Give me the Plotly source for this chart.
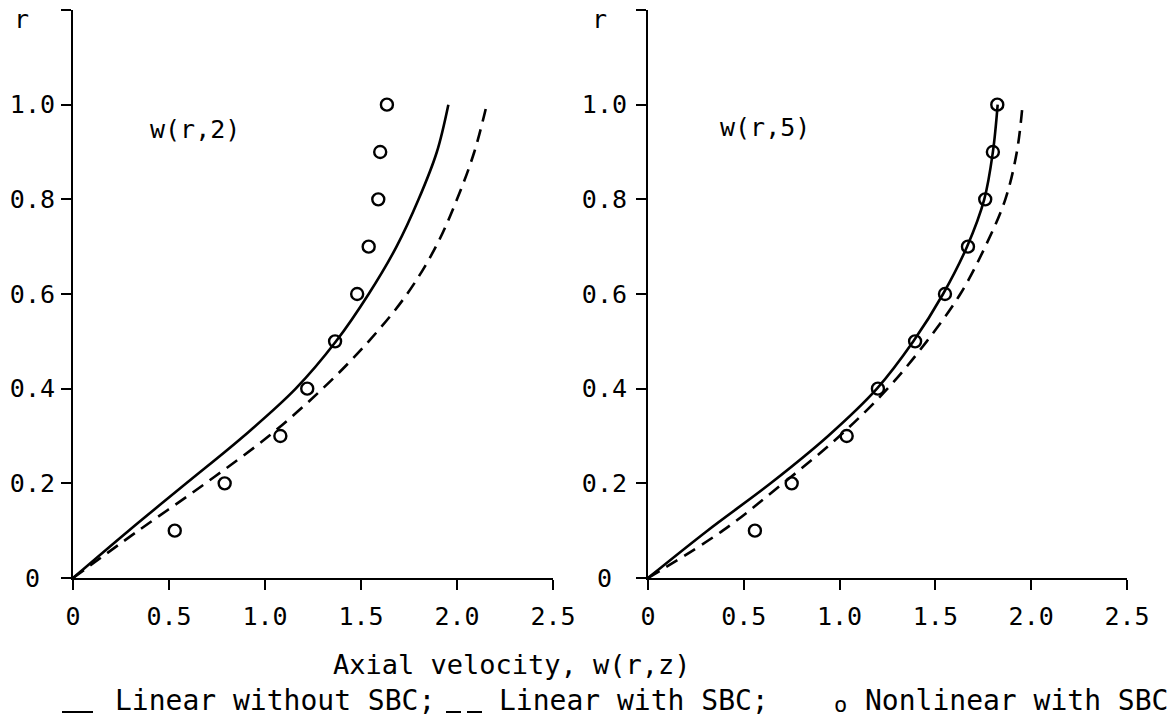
import plotly.graph_objects as go

# ---------------- data ----------------
r_vals = [0.0, 0.1, 0.2, 0.3, 0.4, 0.5, 0.6, 0.7, 0.8, 0.9, 1.0]
r_pts = [0.1, 0.2, 0.3, 0.4, 0.5, 0.6, 0.7, 0.8, 0.9, 1.0]

# z = 2 panel
w2_linear_no_sbc = [0.0, 0.29, 0.59, 0.89, 1.16, 1.37, 1.54, 1.685, 1.80, 1.895, 1.955]
w2_linear_sbc = [0.0, 0.34, 0.69, 1.02, 1.30, 1.54, 1.74, 1.89, 2.00, 2.09, 2.155]
w2_nonlinear_sbc = [0.53, 0.79, 1.08, 1.22, 1.365, 1.48, 1.54, 1.59, 1.60, 1.635]

# z = 5 panel
w5_linear_no_sbc = [0.0, 0.31, 0.64, 0.94, 1.195, 1.385, 1.54, 1.665, 1.755, 1.80, 1.825]
w5_linear_sbc = [0.0, 0.39, 0.705, 1.00, 1.25, 1.455, 1.63, 1.76, 1.865, 1.925, 1.955]
w5_nonlinear_sbc = [0.558, 0.75, 1.037, 1.20, 1.394, 1.55, 1.67, 1.76, 1.80, 1.823]

x_ticks = [0, 0.5, 1.0, 1.5, 2.0, 2.5]
x_ticktext = ["0", "0.5", "1.0", "1.5", "2.0", "2.5"]
y_ticks = [0, 0.2, 0.4, 0.6, 0.8, 1.0, 1.2]
y_ticktext = ["0\u00a0", "0.2", "0.4", "0.6", "0.8", "1.0", ""]

panel_labels = ["w(r,2)", "w(r,5)"]
x_title = "Axial velocity, w(r,z)"
legend_texts = ["Linear without SBC;", "Linear with SBC;", "Nonlinear with SBC"]

# ---------------- figure ----------------
W, H = 1172, 727
FONT = "DejaVu Sans Mono"
LW = 2.6

fig = go.Figure()

panels = [
    ("x", "y", w2_linear_no_sbc, w2_linear_sbc, w2_nonlinear_sbc),
    ("x2", "y2", w5_linear_no_sbc, w5_linear_sbc, w5_nonlinear_sbc),
]
for xa, ya, solid, dashed, pts in panels:
    fig.add_trace(go.Scatter(x=solid, y=r_vals, mode="lines", xaxis=xa, yaxis=ya,
                             line=dict(color="black", width=LW, shape="spline", smoothing=1.0),
                             name="Linear without SBC", showlegend=False))
    fig.add_trace(go.Scatter(x=dashed, y=r_vals, mode="lines", xaxis=xa, yaxis=ya,
                             line=dict(color="black", width=LW, shape="spline", smoothing=1.0,
                                       dash="13px,8px"),
                             name="Linear with SBC", showlegend=False))
    fig.add_trace(go.Scatter(x=pts, y=r_pts, mode="markers", xaxis=xa, yaxis=ya,
                             marker=dict(symbol="circle-open", size=12, color="black",
                                         line=dict(width=2.4, color="black")),
                             name="Nonlinear with SBC", showlegend=False))

def px_x(p):
    return p / W

def px_y(p):
    return 1 - p / H

x_dom_left = [px_x(73), px_x(553)]
x_dom_right = [px_x(648), px_x(1127)]
y_dom = [px_y(578), px_y(10)]

axis_common = dict(showline=True, linecolor="black", linewidth=2, ticks="outside",
                   ticklen=10, tickwidth=2, tickcolor="black", showgrid=False,
                   zeroline=False, automargin=False,
                   tickfont=dict(family=FONT, size=25, color="black"))

fig.update_layout(
    width=W, height=H,
    margin=dict(l=0, r=0, t=0, b=0),
    paper_bgcolor="white", plot_bgcolor="white",
    showlegend=False,
    xaxis=dict(domain=x_dom_left, range=[0, 2.5], tickvals=x_ticks, ticktext=x_ticktext,
               anchor="y", ticklabelstandoff=5, **axis_common),
    yaxis=dict(domain=y_dom, range=[0, 1.2], tickvals=y_ticks, ticktext=y_ticktext,
               anchor="x", ticklabelstandoff=1, **axis_common),
    xaxis2=dict(domain=x_dom_right, range=[0, 2.5], tickvals=x_ticks, ticktext=x_ticktext,
                anchor="y2", ticklabelstandoff=5, **axis_common),
    yaxis2=dict(domain=y_dom, range=[0, 1.2], tickvals=y_ticks, ticktext=y_ticktext,
                anchor="x2", ticklabelstandoff=4, **axis_common),
)

def ann(text, x, y, xanchor="left", size=24):
    fig.add_annotation(text=text, x=px_x(x), y=px_y(y), xref="paper", yref="paper",
                       xanchor=xanchor, yanchor="middle", showarrow=False,
                       font=dict(family=FONT, size=size, color="black"))

# axis "r" labels
ann("r", 12, 20, size=25)
ann("r", 590, 20, size=25)
# panel labels
ann(panel_labels[0], 148, 130, size=25)
ann(panel_labels[1], 718, 128, size=25)
# x title
ann(x_title, 512, 664, xanchor="center", size=27)
# legend row
ann(legend_texts[0], 113, 700, size=28)
ann(legend_texts[1], 497, 700, size=28)
ann("o", 840, 704, xanchor="center", size=22)
ann(legend_texts[2], 1170, 700, xanchor="right", size=28)

# legend line samples
fig.add_shape(type="line", xref="paper", yref="paper", x0=px_x(62), x1=px_x(93),
              y0=px_y(712), y1=px_y(712), line=dict(color="black", width=2))
fig.add_shape(type="line", xref="paper", yref="paper", x0=px_x(446), x1=px_x(461),
              y0=px_y(712), y1=px_y(712), line=dict(color="black", width=2))
fig.add_shape(type="line", xref="paper", yref="paper", x0=px_x(467), x1=px_x(482),
              y0=px_y(712), y1=px_y(712), line=dict(color="black", width=2))

fig.write_html("out.html")
